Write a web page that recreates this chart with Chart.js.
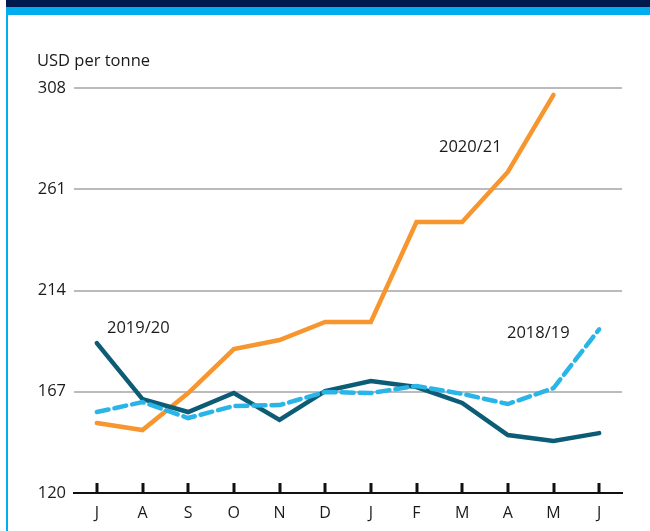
<!DOCTYPE html>
<html>
<head>
<meta charset="utf-8">
<script src="https://cdn.jsdelivr.net/npm/chart.js@4/dist/chart.umd.min.js"></script>
<style>
  html, body { margin: 0; padding: 0; background: #fff; }
  #wrap { width: 650px; height: 531px; position: relative; }
</style>
</head>
<body>
<div id="wrap"><canvas id="priceChart" width="650" height="531"></canvas></div>
<script>
const months = ['J', 'A', 'S', 'O', 'N', 'D', 'J', 'F', 'M', 'A', 'M', 'J'];
const yTicks = [120, 167, 214, 261, 308];

const s2020 = [152.5, 149.2, 166.4, 186.8, 191, 199.4, 199.4, 245.8, 245.8, 269, 304.8, null];
const s2019 = [189.6, 163.6, 157.6, 166.4, 153.9, 167.3, 172, 169.2, 161.8, 146.9, 144.1, 147.8];
const s2018 = [157.6, 162.2, 154.8, 160.4, 160.8, 166.9, 166.4, 169.7, 166, 161.3, 168.7, 196];

const FONT = '"Open Sans", "Noto Sans", sans-serif';

// frame, axis ticks and series labels
const decor = {
  id: 'decor',
  beforeDraw(chart) {
    const c = chart.ctx;
    c.save();
    c.fillStyle = '#001a4d';
    c.fillRect(6, 0, 644, 7);
    c.fillStyle = '#00aeef';
    c.fillRect(6, 7, 644, 8);
    c.fillRect(6, 15, 2, 516);
    c.fillStyle = '#1a1a1a';
    c.font = '16.5px ' + FONT;
    c.textBaseline = 'alphabetic';
    c.fillText('USD per tonne', 37, 66);
    c.restore();
  },
  afterDraw(chart) {
    const c = chart.ctx;
    const x = chart.scales.x, y = chart.scales.y;
    c.save();
    c.strokeStyle = '#111';
    c.lineWidth = 3;
    months.forEach((m, i) => {
      const px = Math.round(x.getPixelForValue(i));
      c.beginPath();
      c.moveTo(px, y.bottom);
      c.lineTo(px, y.bottom - 10);
      c.stroke();
    });
    c.fillStyle = '#1a1a1a';
    c.font = '16.5px ' + FONT;
    c.textBaseline = 'middle';
    c.fillText('2020/21', 439, 147);
    c.fillText('2019/20', 107, 328);
    c.fillText('2018/19', 507, 333);
    c.restore();
  }
};

new Chart(document.getElementById('priceChart'), {
  type: 'line',
  data: {
    labels: months,
    datasets: [
      { label: '2018/19', data: s2018, borderColor: '#29b5e8', borderWidth: 4.5, borderDash: [12, 6], pointRadius: 0, tension: 0 },
      { label: '2019/20', data: s2019, borderColor: '#0d5c75', borderWidth: 4.5, pointRadius: 0, tension: 0 },
      { label: '2020/21', data: s2020, borderColor: '#f7962e', borderWidth: 4.5, pointRadius: 0, tension: 0 }
    ]
  },
  options: {
    responsive: false,
    animation: false,
    layout: { padding: { top: 88, right: 28, left: 0, bottom: 0 } },
    plugins: { legend: { display: false }, tooltip: { enabled: false } },
    elements: { line: { borderCapStyle: 'round', borderJoinStyle: 'miter' } },
    scales: {
      x: {
        offset: true,
        grid: { display: false, drawTicks: false },
        border: { display: true, color: '#111', width: 2 },
        ticks: { color: '#1a1a1a', font: { family: FONT, size: 16 }, padding: 11 },
        afterFit(s) { s.height = 38; }
      },
      y: {
        min: 120, max: 308,
        afterBuildTicks(s) { s.ticks = yTicks.map(v => ({ value: v })); },
        grid: { color: '#bbbbbe', lineWidth: 2, drawTicks: false },
        border: { display: false },
        ticks: { color: '#1a1a1a', font: { family: FONT, size: 16.5 }, padding: 8 },
        afterFit(s) { s.width = 74; }
      }
    }
  },
  plugins: [decor]
});
</script>
</body>
</html>
